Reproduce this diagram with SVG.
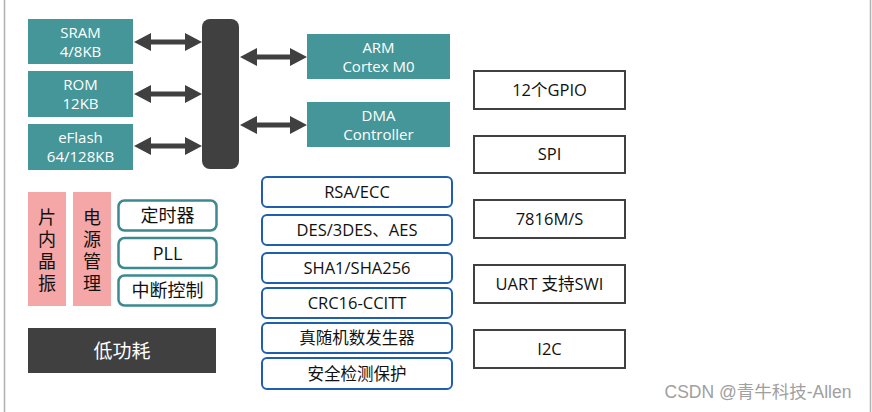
<svg xmlns="http://www.w3.org/2000/svg" width="872" height="412" viewBox="0 0 872 412">
<defs>
<style>
text{font-family:"Open Sans","Noto Sans","Noto Sans CJK SC",sans-serif;text-anchor:middle}
.teal{fill:#459699}
.wt{fill:#ffffff;font-size:15px}
.per{fill:#ffffff;stroke:#404040;stroke-width:2}
.blk{fill:#111111;font-size:16.5px}
.cry{fill:#ffffff;stroke:#1f5fae;stroke-width:2}
.tl{fill:#ffffff;stroke:#3a8a8e;stroke-width:2.5}
.tt{fill:#111111;font-size:18px}
.pink{fill:#f5a6a6}
.vt{fill:#111111;font-size:18px}
.arr{fill:#404040}
</style>
</defs>
<rect x="0" y="0" width="872" height="412" fill="#ffffff"/>
<line x1="4.5" y1="0" x2="4.5" y2="412" stroke="#b0b0b0" stroke-width="1.5"/>
<line x1="870.5" y1="0" x2="870.5" y2="412" stroke="#b0b0b0" stroke-width="1.5"/>

<g id="sram"><rect class="teal" x="28" y="19" width="105" height="45"/><text class="wt" x="80.5" y="38">SRAM</text><text class="wt" x="80.5" y="57">4/8KB</text></g>
<g id="rom"><rect class="teal" x="28" y="71" width="105" height="46"/><text class="wt" x="80.5" y="90">ROM</text><text class="wt" x="80.5" y="109">12KB</text></g>
<g id="eflash"><rect class="teal" x="28" y="124" width="105" height="46"/><text class="wt" x="80.5" y="143">eFlash</text><text class="wt" x="80.5" y="162">64/128KB</text></g>
<g id="bus"><rect x="202" y="19" width="37" height="150" rx="8" fill="#404040"/></g>
<g id="arm"><rect class="teal" x="307" y="34" width="143" height="45"/><text class="wt" x="378.5" y="53">ARM</text><text class="wt" x="378.5" y="72">Cortex M0</text></g>
<g id="dma"><rect class="teal" x="307" y="102" width="143" height="45"/><text class="wt" x="378.5" y="121">DMA</text><text class="wt" x="378.5" y="140">Controller</text></g>

<g id="connectors" class="arr">
<path d="M134,42 L151,33 L151,39.5 L185,39.5 L185,33 L202,42 L185,51 L185,44.5 L151,44.5 L151,51 z"/>
<path d="M134,94 L151,85 L151,91.5 L185,91.5 L185,85 L202,94 L185,103 L185,96.5 L151,96.5 L151,103 z"/>
<path d="M134,146 L151,137 L151,143.5 L185,143.5 L185,137 L202,146 L185,155 L185,148.5 L151,148.5 L151,155 z"/>
<path d="M240,57 L257,48 L257,54.5 L290,54.5 L290,48 L307,57 L290,66 L290,59.5 L257,59.5 L257,66 z"/>
<path d="M240,125 L257,116 L257,122.5 L290,122.5 L290,116 L307,125 L290,134 L290,127.5 L257,127.5 L257,134 z"/>
</g>

<g id="gpio"><rect class="per" x="474" y="71" width="151" height="38"/><text class="blk" x="549.5" y="96">12个GPIO</text></g>
<g id="spi"><rect class="per" x="474" y="136" width="151" height="37"/><text class="blk" x="549.5" y="160">SPI</text></g>
<g id="iso7816"><rect class="per" x="474" y="200" width="151" height="38"/><text class="blk" x="549.5" y="225">7816M/S</text></g>
<g id="uart"><rect class="per" x="474" y="265" width="151" height="38"/><text class="blk" x="549.5" y="290">UART 支持SWI</text></g>
<g id="i2c"><rect class="per" x="474" y="330" width="151" height="38"/><text class="blk" x="549.5" y="355">I2C</text></g>

<g id="rsa"><rect class="cry" x="262" y="177" width="190" height="30" rx="5"/><text class="blk" x="357" y="198">RSA/ECC</text></g>
<g id="des"><rect class="cry" x="262" y="215" width="190" height="30" rx="5"/><text class="blk" x="357" y="236">DES/3DES、AES</text></g>
<g id="sha"><rect class="cry" x="262" y="253" width="190" height="30" rx="5"/><text class="blk" x="357" y="274">SHA1/SHA256</text></g>
<g id="crc"><rect class="cry" x="262" y="288" width="190" height="30" rx="5"/><text class="blk" x="357" y="309">CRC16-CCITT</text></g>
<g id="trng"><rect class="cry" x="262" y="323" width="190" height="30" rx="5"/><text class="blk" x="357" y="344">真随机数发生器</text></g>
<g id="security"><rect class="cry" x="262" y="358" width="190" height="31" rx="5"/><text class="blk" x="357" y="380">安全检测保护</text></g>

<g id="osc"><rect class="pink" x="28" y="192" width="38" height="114"/>
<text class="vt" x="47" y="224">片</text><text class="vt" x="47" y="246">内</text><text class="vt" x="47" y="268">晶</text><text class="vt" x="47" y="290">振</text></g>
<g id="pmu"><rect class="pink" x="73" y="192" width="38" height="114"/>
<text class="vt" x="92" y="224">电</text><text class="vt" x="92" y="246">源</text><text class="vt" x="92" y="268">管</text><text class="vt" x="92" y="290">理</text></g>
<g id="timer"><rect class="tl" x="118.5" y="200.5" width="98" height="30" rx="6"/><text class="tt" x="167.5" y="222">定时器</text></g>
<g id="pll"><rect class="tl" x="118.5" y="238" width="98" height="30" rx="6"/><text class="tt" x="167.5" y="259.5">PLL</text></g>
<g id="irq"><rect class="tl" x="118.5" y="275.5" width="98" height="30" rx="6"/><text class="tt" x="167.5" y="297">中断控制</text></g>
<g id="lowpower"><rect x="28" y="328" width="188" height="45" fill="#404040"/><text x="122" y="357.5" fill="#ffffff" style="font-size:19px">低功耗</text></g>

<text x="758" y="398" fill="#a0a0a0" style="font-family:'Liberation Sans','Noto Sans CJK SC',sans-serif;font-size:17.5px">CSDN @青牛科技-Allen</text>
</svg>
